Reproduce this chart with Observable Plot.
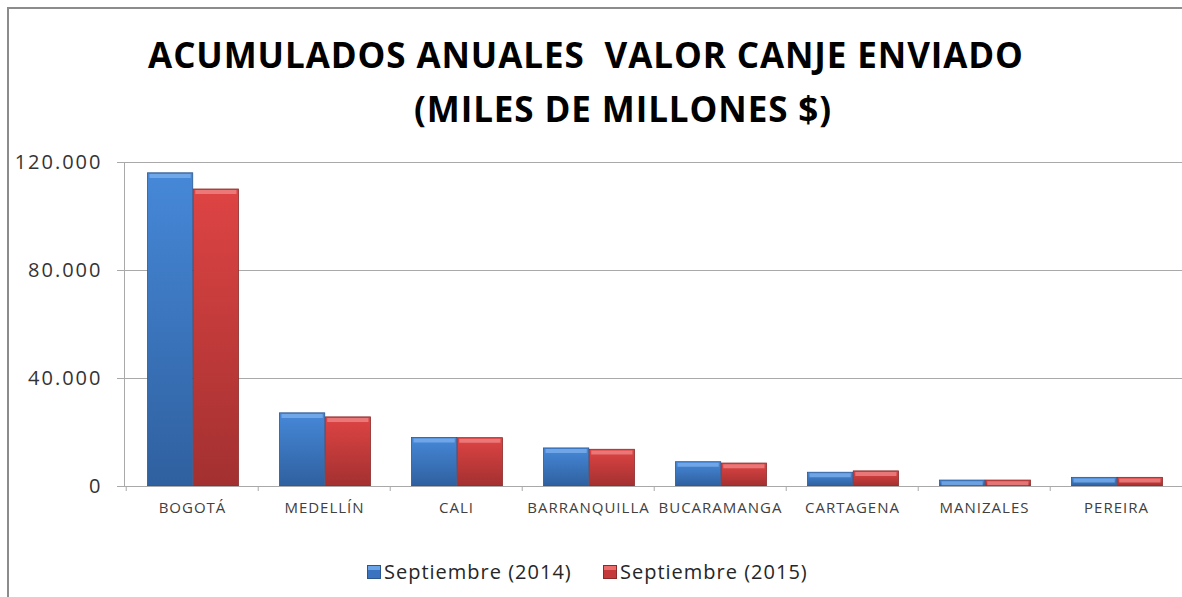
<!DOCTYPE html>
<html>
<head>
<meta charset="utf-8">
<script src="https://cdn.jsdelivr.net/npm/d3@7"></script>
<script src="https://cdn.jsdelivr.net/npm/@observablehq/plot@0.6"></script>
<style>
  html, body { margin: 0; padding: 0; width: 1182px; height: 597px; overflow: hidden; background: #fff; }
  #frame { position: absolute; left: 7px; top: 7px; width: 1300px; height: 700px; border-left: 2px solid #8c8c8c; border-top: 2px solid #8c8c8c; }
  .title { position: absolute; font-family: "Open Sans", sans-serif; font-weight: 700; font-size: 35px; line-height: 35px; letter-spacing: 0.9px; white-space: pre; color: #000; transform: translateX(-50%); }
  #chart { position: absolute; left: 0; top: 140px; width: 1190px; }
  #chart svg { max-width: none !important; }
  #chart g[aria-label="y-axis tick label"] text { letter-spacing: 2px; }
  #chart g[aria-label="x-axis tick label"] text { letter-spacing: 1px; }
  .leg { position: absolute; top: 559px; font-family: "Open Sans", sans-serif; font-size: 20px; line-height: 26px; letter-spacing: 1px; color: #262626; white-space: pre; }
  .sw { position: absolute; top: 565px; width: 14px; height: 14px; box-sizing: border-box; }
</style>
</head>
<body>
<div id="frame"></div>
<div class="title" style="left:586px; top:37px;">ACUMULADOS ANUALES  VALOR CANJE ENVIADO</div>
<div class="title" style="left:623px; top:91px;">(MILES DE MILLONES $)</div>
<div id="chart"></div>
<div id="legend"></div>
<script>
const cities = ["BOGOTÁ", "MEDELLÍN", "CALI", "BARRANQUILLA", "BUCARAMANGA", "CARTAGENA", "MANIZALES", "PEREIRA"];
const sept2014 = [116000, 27100, 18000, 14100, 9000, 5100, 2200, 3200];
const sept2015 = [110000, 25600, 17900, 13600, 8500, 5600, 2200, 3200];
const seriesNames = ["Septiembre (2014)", "Septiembre (2015)"];
const yTicks = [0, 40000, 80000, 120000];

const data = cities.map((c, i) => ({city: c, v2014: sept2014[i], v2015: sept2015[i]}));

const loc = d3.formatLocale({decimal: ",", thousands: ".", grouping: [3], currency: ["$", ""]});
const fmt = loc.format(",");

const width = 1190, marginLeft = 124, marginRight = 5.5;
const step = (width - marginLeft - marginRight) / cities.length;
const barW = 45.8, gapL = 21.5, gapR = 19.5;
const blueIn = {insetLeft: gapL, insetRight: step - gapL - barW};
const redIn = {insetLeft: step - gapR - barW, insetRight: gapR};

const chart = Plot.plot({
  width, height: 390,
  marginLeft, marginRight, marginTop: 22, marginBottom: 44,
  style: {fontFamily: "'Open Sans', sans-serif", background: "transparent", overflow: "visible", maxWidth: "none"},
  x: {domain: cities, padding: 0},
  y: {domain: [0, 120000]},
  marks: [
    Plot.gridY(yTicks, {stroke: "#a9a9a9", strokeOpacity: 1}),
    Plot.axisY(yTicks, {tickSize: 7, tickPadding: 15, stroke: "#a9a9a9", fontSize: 20, fill: "#333", tickFormat: fmt, label: null}),
    Plot.barY(data, {x: "city", y: "v2014", fill: "url(#gBlue)", stroke: "#2b5690", strokeWidth: 0.8, ...blueIn}),
    Plot.barY(data, {x: "city", y: "v2015", fill: "url(#gRed)", stroke: "#8a2a2a", strokeWidth: 0.8, ...redIn}),
    Plot.tickY(data, {x: "city", y: "v2014", stroke: "#7fb2ee", strokeWidth: 4, strokeOpacity: 0.75, dy: 2.6, insetLeft: gapL + 2, insetRight: step - gapL - barW + 2}),
    Plot.tickY(data, {x: "city", y: "v2015", stroke: "#f08a8a", strokeWidth: 4, strokeOpacity: 0.75, dy: 2.6, insetLeft: step - gapR - barW + 2, insetRight: gapR + 2}),
    Plot.frame({anchor: "left", stroke: "#a9a9a9"}),
    Plot.ruleY([0], {stroke: "#a9a9a9"}),
    Plot.axisX({tickSize: 5, stroke: "#a9a9a9", tickFormat: () => "", dx: -step / 2, label: null}),
    Plot.axisX({tickSize: 0, tickPadding: 16, fontSize: 15, fill: "#404040", label: null})
  ]
});

const svg = d3.select(chart);
const defs = svg.insert("defs", ":first-child");
const gb = defs.append("linearGradient").attr("id", "gBlue").attr("x1", 0).attr("y1", 0).attr("x2", 0).attr("y2", 1);
gb.append("stop").attr("offset", "0%").attr("stop-color", "#4688d8");
gb.append("stop").attr("offset", "100%").attr("stop-color", "#2f609f");
const gr = defs.append("linearGradient").attr("id", "gRed").attr("x1", 0).attr("y1", 0).attr("x2", 0).attr("y2", 1);
gr.append("stop").attr("offset", "0%").attr("stop-color", "#de4444");
gr.append("stop").attr("offset", "100%").attr("stop-color", "#a33030");
document.getElementById("chart").appendChild(chart);

// legend
const legend = document.getElementById("legend");
const legItems = [
  {name: seriesNames[0], sx: 367, tx: 384, bg: "linear-gradient(#6aa3e6 0 30%, #3a74c0 30% 100%)", bd: "#2b5690"},
  {name: seriesNames[1], sx: 603, tx: 620, bg: "linear-gradient(#ec6b6b 0 30%, #c43a3a 30% 100%)", bd: "#8a2a2a"}
];
legItems.forEach(it => {
  const sw = document.createElement("div");
  sw.className = "sw";
  sw.style.left = it.sx + "px";
  sw.style.background = it.bg;
  sw.style.border = "1px solid " + it.bd;
  legend.appendChild(sw);
  const t = document.createElement("div");
  t.className = "leg";
  t.style.left = it.tx + "px";
  t.textContent = it.name;
  legend.appendChild(t);
});
</script>
</body>
</html>
